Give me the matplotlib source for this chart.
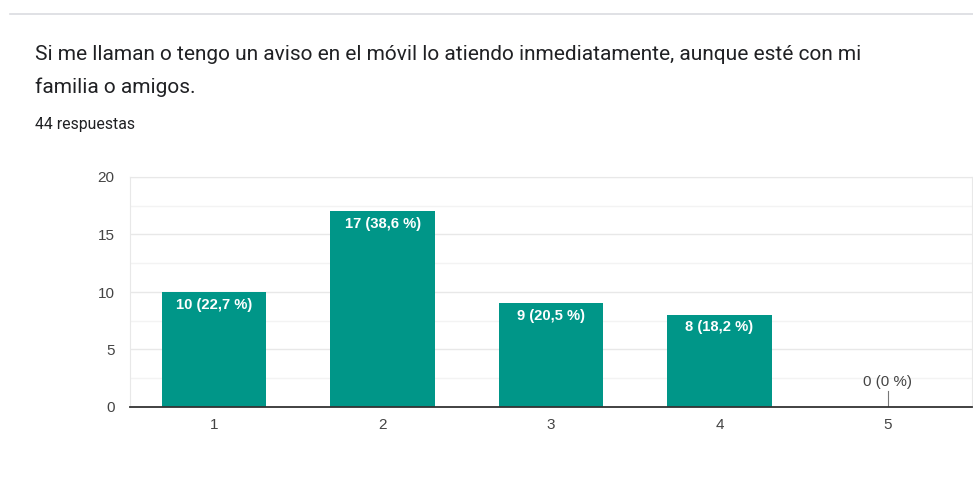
import matplotlib.pyplot as plt
import numpy as np

plt.rcParams['font.family'] = ['Liberation Sans', 'DejaVu Sans']

categories = ['1', '2', '3', '4', '5']
counts = [10, 17, 9, 8, 0]
percents = ['22,7', '38,6', '20,5', '18,2', '0']
total = 44

title_lines = ['Si me llaman o tengo un aviso en el móvil lo atiendo inmediatamente, aunque esté con mi',
               'familia o amigos.']

fig = plt.figure(figsize=(9.73, 4.94), dpi=100)

# thin rule at the top of the card
fig.add_artist(plt.Line2D([10 / 973, 1], [1 - 14 / 494, 1 - 14 / 494],
                          color='#dadce0', lw=1.2))

for i, line in enumerate(title_lines):
    fig.text(35 / 973, 1 - (55 + 32 * i) / 494, line, fontsize=15,
             color='#202124', va='center', ha='left', family='Roboto')
fig.text(35 / 973, 1 - 124 / 494, f'{total} respuestas', fontsize=11.4,
         color='#202124', va='center', family='Roboto')

ax = fig.add_axes([130 / 973, 1 - 407 / 494, 842 / 973, 230 / 494])
x = np.arange(1, len(categories) + 1)
bars = ax.bar(x, counts, width=0.62, color='#009688', zorder=3)

ax.set_xlim(0.5, 5.5)
ax.set_ylim(0, 20)
ax.set_yticks([0, 5, 10, 15, 20])
ax.set_yticks([2.5, 7.5, 12.5, 17.5], minor=True)
ax.set_xticks(x)
ax.set_xticklabels(categories)
ax.grid(axis='y', which='major', color='#e8e8e8', lw=1, zorder=0)
ax.grid(axis='y', which='minor', color='#f3f3f3', lw=1, zorder=0)
ax.tick_params(axis='both', which='both', length=0, labelsize=11,
               labelcolor='#444444')
ax.tick_params(axis='y', pad=11)
ax.tick_params(axis='x', pad=8)

for side in ['left', 'right', 'top']:
    ax.spines[side].set_color('#e8e8e8')
ax.spines['bottom'].set_color('#333333')
ax.spines['bottom'].set_linewidth(1.3)
ax.spines['bottom'].set_zorder(4)

for xi, c, p in zip(x, counts, percents):
    label = f'{c} ({p} %)'
    if c > 0:
        ax.annotate(label, (xi, c), xytext=(0, -9), textcoords='offset points',
                    ha='center', va='center', color='white', fontsize=10.6,
                    fontweight='bold', zorder=5)
    else:
        ax.plot([xi, xi], [0, 1.4], color='#777777', lw=0.8, zorder=4)
        ax.annotate(label, (xi, 1.4), xytext=(0, 6.5), textcoords='offset points',
                    ha='center', va='center', color='#444444', fontsize=10.9,
                    zorder=5)

fig.savefig('out.png', dpi=100)
